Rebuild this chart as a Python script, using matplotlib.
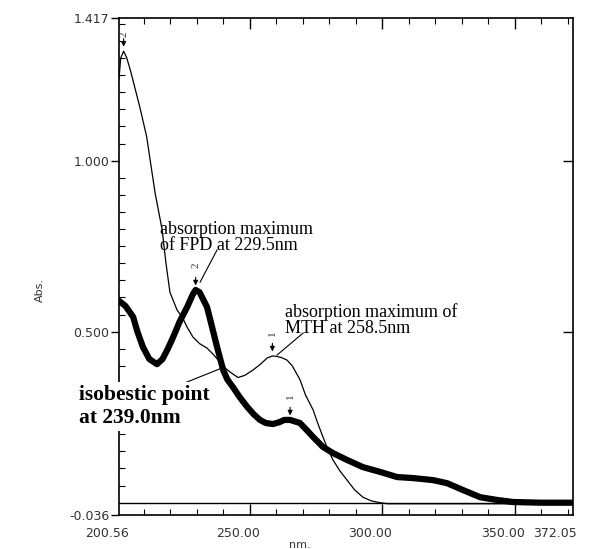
import matplotlib
matplotlib.use("Agg")
import matplotlib.pyplot as plt
import matplotlib.transforms as mtransforms
import numpy as np

# thin trace
thin_nm = [200.56, 201.2, 202.3, 203.5, 205.0, 208.5, 211.0, 214.2, 216.8, 218.3,
           219.8, 222.5, 224.4, 226.3, 228.5, 231.0, 233.8, 236.0, 238.7, 240.5,
           242.5, 245.5, 248.0, 251.2, 254.0, 256.5, 258.5, 260.0, 262.0, 264.0,
           266.0, 268.9, 271.0, 273.9, 275.5, 277.6, 279.5, 281.4, 284.0, 286.7,
           289.5, 292.7, 296.0, 299.2, 302.0, 372.05]
thin_abs = [1.24, 1.30, 1.32, 1.30, 1.26, 1.154, 1.07, 0.905, 0.80, 0.70,
            0.615, 0.563, 0.543, 0.513, 0.484, 0.465, 0.452, 0.435, 0.411, 0.395,
            0.382, 0.366, 0.372, 0.388, 0.405, 0.423, 0.429, 0.428, 0.424, 0.417,
            0.40, 0.36, 0.315, 0.271, 0.235, 0.192, 0.155, 0.125, 0.093, 0.066,
            0.038, 0.016, 0.005, 0.0, -0.003, -0.003]

# thick trace
thick_nm = [200.56, 203.0, 205.9, 207.5, 209.6, 212.0, 214.9, 217.0, 219.0, 221.0,
            223.5, 226.3, 228.5, 229.5, 231.0, 233.8, 235.5, 237.6, 239.9, 241.5,
            243.6, 246.0, 249.0, 251.5, 253.8, 256.0, 258.7, 261.0, 263.0, 265.2,
            268.9, 271.5, 273.9, 277.6, 281.4, 286.7, 292.7, 299.2, 305.6, 311.6,
            319.2, 324.5, 330.5, 337.0, 343.4, 349.4, 360.0, 372.05]
thick_abs = [0.59, 0.575, 0.543, 0.50, 0.455, 0.42, 0.405, 0.42, 0.45, 0.484,
             0.53, 0.572, 0.61, 0.622, 0.615, 0.572, 0.52, 0.455, 0.388, 0.36,
             0.338, 0.31, 0.28, 0.258, 0.242, 0.233, 0.230, 0.235, 0.242, 0.242,
             0.233, 0.212, 0.192, 0.163, 0.145, 0.125, 0.104, 0.090, 0.075, 0.072,
             0.066, 0.057, 0.037, 0.016, 0.008, 0.002, 0.0, 0.0]

x_min, x_max = 200.56, 372.05
y_min, y_max = -0.036, 1.417
x_labels = [200.56, 250.00, 300.00, 350.00, 372.05]
y_labels = [1.417, 1.000, 0.500, -0.036]

serif = ["Liberation Serif", "DejaVu Serif"]
tick_color = "#333333"

fig = plt.figure(figsize=(5.96, 5.49), dpi=100)
ax = fig.add_axes([0.1997, 0.0619, 0.7617, 0.9053])

ax.axhline(0.0, color="black", lw=1.0, zorder=1)
ax.plot(thin_nm, thin_abs, color="black", lw=0.9, zorder=3)
ax.plot(thick_nm, thick_abs, color="black", lw=4.5, solid_joinstyle="round", zorder=2)

ax.set_xlim(x_min, x_max)
ax.set_ylim(y_min, y_max)

for s in ax.spines.values():
    s.set_linewidth(1.2)

# x ticks (inward, labels drawn by hand)
ax.set_xticks([250, 300, 350])
ax.set_xticks(np.arange(210, 371, 10), minor=True)
ax.tick_params(axis="x", which="major", direction="in", length=8, width=1.0,
               top=True, bottom=True, labelbottom=False)
ax.tick_params(axis="x", which="minor", direction="in", length=4, width=0.8,
               top=True, bottom=True)
off = mtransforms.ScaledTranslation(-12 / 100, -18 / 100, fig.dpi_scale_trans)
for v in x_labels:
    shift = -6 if v == 372.05 else 0
    tr = ax.get_xaxis_transform() + off + mtransforms.ScaledTranslation(shift / 100, 0, fig.dpi_scale_trans)
    ax.text(v, 0, f"{v:.2f}", transform=tr, ha="center", va="center",
            fontsize=9, color=tick_color, family="DejaVu Sans")

# y ticks
ax.set_yticks(y_labels)
ax.set_yticklabels([f"{v:.3f}" for v in y_labels], fontsize=9, color=tick_color,
                   family="DejaVu Sans")
ax.set_yticks(np.arange(0.05, 1.41, 0.05), minor=True)
ax.tick_params(axis="y", which="major", direction="out", length=6, width=1.0,
               pad=1, left=True, right=False)
ax.tick_params(axis="y", which="minor", direction="in", length=4, width=0.8,
               left=True, right=True)
axr = ax.twinx()
axr.set_ylim(y_min, y_max)
axr.set_yticks([1.0, 0.5])
axr.tick_params(axis="y", direction="in", length=7, width=1.0, labelright=False)
for s in axr.spines.values():
    s.set_visible(False)

fig.text(40 / 596, 1 - 290 / 549, "Abs.", rotation=90, ha="center", va="center",
         fontsize=8, color=tick_color, family="DejaVu Sans")
fig.text(300 / 596, 1 - 545 / 549, "nm.", ha="center", va="center",
         fontsize=8, color=tick_color, family="DejaVu Sans")

# annotations
ax.text(216.0, 0.775, "absorption maximum\nof FPD at 229.5nm", ha="left", va="center",
        fontsize=13, family=serif, linespacing=0.88, zorder=5)
ax.plot([237.6, 231.2], [0.739, 0.645], color="black", lw=0.8, zorder=5)

ax.text(263.3, 0.534, "absorption maximum of\nMTH at 258.5nm", ha="left", va="center",
        fontsize=13, family=serif, linespacing=0.88, zorder=5)
ax.plot([270.1, 260.3], [0.496, 0.432], color="black", lw=0.8, zorder=5)

ax.text(185.4, 0.282, "isobestic point\nat 239.0nm", ha="left", va="center",
        fontsize=15.5, family=serif, fontweight="bold", linespacing=1.2,
        clip_on=False, zorder=6,
        bbox=dict(facecolor="white", edgecolor="none", pad=2))
ax.plot([216.0, 239.5], [0.321, 0.394], color="black", lw=0.8, zorder=5)

# peak marks
peaks = [(202.3, 1.32, "2", 1.37), (229.5, 0.622, "2", 0.695),
         (258.5, 0.429, "1", 0.496), (265.2, 0.242, "1", 0.312)]
for px, py, lab, ly in peaks:
    ax.annotate("", xy=(px, py + 0.005), xytext=(px, py + 0.045),
                arrowprops=dict(arrowstyle="-|>", color="black", lw=0.8,
                                mutation_scale=7), zorder=5)
    ax.text(px, ly, lab, rotation=90, ha="center", va="center", fontsize=8,
            family=serif, color="#333333", zorder=5)

fig.savefig("out.png", dpi=100)
